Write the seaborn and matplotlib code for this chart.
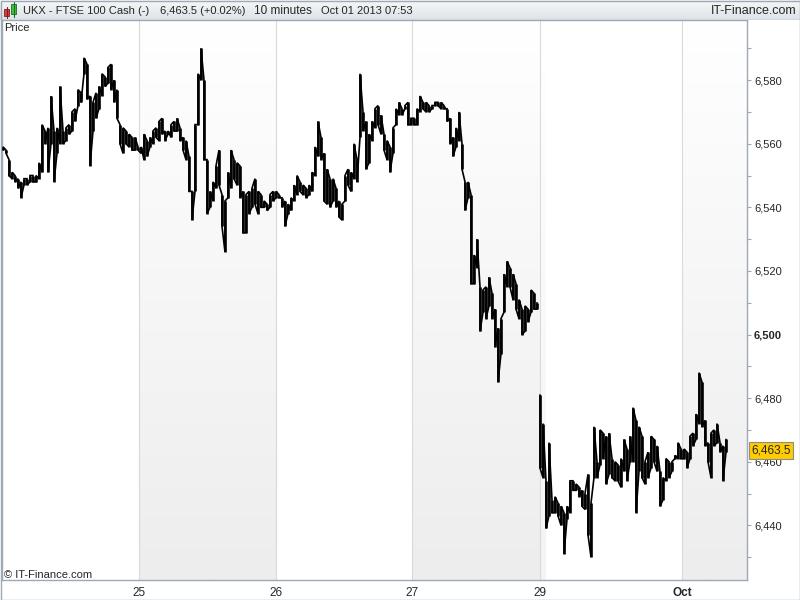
"""
FTSE 100 cash, 10-minute bars (24 Sep - 1 Oct 2013), IT-Finance style chart.
Bars are read off the reference picture, roughly three 10-minute bars per slot.
"""

import numpy as np
import pandas as pd
import matplotlib
matplotlib.use("Agg")
import matplotlib.pyplot as plt
import seaborn as sns
from matplotlib.colors import LinearSegmentedColormap
from matplotlib.patches import Rectangle
from matplotlib.ticker import MultipleLocator, FuncFormatter
import matplotlib.transforms as mtransforms

# ---- data -------------------------------------------------------------
bar_low = [
    6558, 6557, 6550, 6549, 6548, 6546, 6543, 6547, 6547, 6548,
    6548, 6548, 6549, 6551, 6560, 6551, 6560, 6548, 6557, 6560,
    6560, 6561, 6563, 6564, 6567, 6572, 6573, 6582, 6574, 6553,
    6564, 6568, 6571, 6575, 6578, 6579, 6577, 6573, 6568, 6560,
    6557, 6560, 6559, 6558, 6558, 6558, 6557, 6555, 6556, 6559,
    6560, 6562, 6561, 6563, 6561, 6563, 6562, 6564, 6564, 6561,
    6558, 6555, 6545, 6536, 6545, 6566, 6580, 6555, 6538, 6540,
    6542, 6546, 6547, 6534, 6526, 6543, 6546, 6549, 6547, 6543,
    6532, 6532, 6538, 6540, 6541, 6538, 6540, 6540, 6539, 6540,
    6542, 6543, 6543, 6540, 6534, 6538, 6539, 6542, 6544, 6545,
    6544, 6543, 6544, 6545, 6550, 6556, 6555, 6542, 6541, 6540,
    6542, 6540, 6537, 6536, 6542, 6547, 6545, 6549, 6548, 6562,
    6564, 6552, 6554, 6561, 6565, 6566, 6563, 6558, 6555, 6551,
    6557, 6566, 6569, 6569, 6571, 6566, 6566, 6566, 6566, 6570,
    6571, 6570, 6570, 6571, 6572, 6572, 6571, 6571, 6567, 6560,
    6556, 6559, 6561, 6552, 6539, 6543, 6516, 6516, 6521, 6501,
    6507, 6505, 6509, 6505, 6496, 6485, 6494, 6507, 6515, 6515,
    6511, 6508, 6505, 6500, 6501, 6504, 6507, 6508, 6508, 6458,
    6455, 6439, 6443, 6444, 6444, 6443, 6440, 6431, 6442, 6444,
    6451, 6451, 6449, 6446, 6445, 6437, 6430, 6455, 6455, 6459,
    6461, 6453, 6456, 6455, 6454, 6454, 6452, 6457, 6454, 6460,
    6460, 6444, 6457, 6455, 6453, 6455, 6458, 6460, 6457, 6446,
    6448, 6454, 6455, 6457, 6461, 6461, 6461, 6461, 6458, 6461,
    6465, 6467, 6472, 6471, 6465, 6460, 6455, 6465, 6466, 6463,
    6454, 6463,
]
bar_high = [
    6559, 6558, 6555, 6551, 6550, 6549, 6548, 6549, 6549, 6550,
    6550, 6550, 6554, 6566, 6564, 6565, 6575, 6564, 6565, 6578,
    6564, 6565, 6566, 6570, 6571, 6577, 6576, 6587, 6585, 6575,
    6573, 6576, 6578, 6582, 6581, 6584, 6585, 6580, 6577, 6566,
    6565, 6564, 6563, 6562, 6562, 6559, 6559, 6563, 6561, 6562,
    6564, 6565, 6567, 6568, 6564, 6564, 6566, 6567, 6568, 6565,
    6562, 6561, 6556, 6545, 6566, 6582, 6590, 6580, 6555, 6545,
    6548, 6553, 6558, 6544, 6542, 6551, 6558, 6555, 6554, 6553,
    6545, 6544, 6545, 6546, 6549, 6545, 6544, 6542, 6541, 6544,
    6545, 6545, 6544, 6543, 6542, 6541, 6543, 6547, 6550, 6548,
    6547, 6546, 6547, 6551, 6559, 6567, 6562, 6557, 6552, 6549,
    6549, 6546, 6542, 6541, 6550, 6552, 6551, 6560, 6555, 6582,
    6570, 6567, 6563, 6567, 6571, 6572, 6569, 6563, 6561, 6559,
    6565, 6571, 6573, 6571, 6572, 6573, 6568, 6568, 6571, 6575,
    6573, 6573, 6572, 6572, 6573, 6573, 6573, 6572, 6571, 6568,
    6562, 6565, 6570, 6560, 6548, 6548, 6544, 6525, 6530, 6515,
    6514, 6515, 6518, 6513, 6508, 6502, 6505, 6519, 6523, 6521,
    6519, 6516, 6511, 6508, 6509, 6508, 6514, 6513, 6510, 6481,
    6472, 6454, 6466, 6448, 6449, 6447, 6446, 6444, 6446, 6454,
    6454, 6453, 6452, 6451, 6450, 6456, 6447, 6471, 6460, 6470,
    6469, 6468, 6469, 6461, 6460, 6459, 6461, 6467, 6464, 6468,
    6477, 6473, 6471, 6468, 6460, 6463, 6468, 6467, 6465, 6457,
    6455, 6461, 6460, 6460, 6462, 6466, 6464, 6464, 6463, 6468,
    6469, 6475, 6488, 6485, 6473, 6466, 6469, 6470, 6472, 6466,
    6465, 6467,
]
last_price = 6463.5
reopen_slot = 179          # first slot after the weekend gap

day_labels = ["25", "26", "27", "29", "Oct"]
day_starts = [45.33, 91.0, 136.33, 179.0, 226.33]   # slot where each day begins
monday_start = 181.0
shaded_days = [(45.33, 91.0), (136.33, 179.0), (226.33, 248.0)]

XMIN, XMAX = -1 / 3, 248.0
YMIN, YMAX = 6422.8, 6598.9

# ---- style -------------------------------------------------------------
sns.set_theme(style="white")
plt.rcParams["font.family"] = ["Liberation Sans", "DejaVu Sans"]
GRID_GREY = "#9EA9B3"

fig = plt.figure(figsize=(8, 6), dpi=100)
fig.patch.set_facecolor("white")
ax = fig.add_axes([2 / 800, 20 / 600, 745 / 800, 560 / 600])

# day shading: vertical gradient, white at top to light grey at bottom
grad = np.linspace(0, 1, 256).reshape(-1, 1)
shade_cmap = LinearSegmentedColormap.from_list("shade", ["#FFFFFF", "#EDEDED"])
light_cmap = LinearSegmentedColormap.from_list("light", ["#FFFFFF", "#F4F4F4"])
for x0, x1 in shaded_days:
    ax.imshow(grad, extent=[x0, x1, YMIN, YMAX], origin="upper", aspect="auto",
              cmap=shade_cmap, zorder=0)
ax.imshow(grad, extent=[day_starts[3], monday_start, YMIN, YMAX], origin="upper",
          aspect="auto", cmap=light_cmap, zorder=0)
for xs in day_starts:
    ax.axvline(xs, color="#DADADA", lw=0.8, zorder=1)

# high-low bars: walk each slot low<->high so consecutive bars join up,
# with a break at the weekend gap
path_x, path_y, path_seg = [], [], []
end = bar_low[0]
for i, (lo, hi) in enumerate(zip(bar_low, bar_high)):
    if i == reopen_slot:
        end = hi
    first, second = (lo, hi) if abs(end - lo) <= abs(end - hi) else (hi, lo)
    seg = 0 if i < reopen_slot else 1
    path_x += [i, i]
    path_y += [first, second]
    path_seg += [seg, seg]
    end = second

df = pd.DataFrame({"slot": path_x, "price": path_y, "session": path_seg})
sns.lineplot(data=df, x="slot", y="price", units="session", estimator=None,
             sort=False, color="black", linewidth=1.2, ax=ax, legend=False,
             solid_joinstyle="miter", zorder=3)
# heavier vertical strokes for the bar ranges
ax.vlines(np.arange(len(bar_low)), bar_low, bar_high, color="black",
          linewidth=1.9, zorder=3)

ax.set_xlim(XMIN, XMAX)
ax.set_ylim(YMIN, YMAX)
ax.set_xlabel("")
ax.set_ylabel("")

# axes frame
for sp in ax.spines.values():
    sp.set_visible(True)
    sp.set_color(GRID_GREY)
    sp.set_linewidth(1.0)

# right price axis
ax.yaxis.tick_right()
ax.yaxis.set_major_locator(MultipleLocator(20))
ax.yaxis.set_minor_locator(MultipleLocator(10))
ax.yaxis.set_major_formatter(FuncFormatter(lambda v, p: f"{v:,.0f}"))
ax.tick_params(axis="y", which="both", direction="out", length=3, width=0.8,
               color=GRID_GREY, labelsize=8, pad=2, left=False, right=True)
for lbl in ax.get_yticklabels():
    if lbl.get_text() == "6,500":
        lbl.set_fontweight("bold")

# bottom date axis
ax.set_xticks(day_starts)
ax.set_xticklabels(day_labels)
ax.tick_params(axis="x", direction="out", length=3, width=0.8, color=GRID_GREY,
               labelsize=8.5, pad=2)
for lbl in ax.get_xticklabels():
    if lbl.get_text() == "Oct":
        lbl.set_fontweight("bold")

# last price tag
tr = mtransforms.blended_transform_factory(ax.transAxes, ax.transData)
ax.text(1.0 + 4 / 745, last_price, f"{last_price:,.1f}", transform=tr,
        fontsize=8.5, va="center", ha="left", clip_on=False, zorder=6,
        bbox=dict(boxstyle="square,pad=0.2", facecolor="#FFCC00",
                  edgecolor="#8C8C8C", linewidth=0.8))

# ---- header bar --------------------------------------------------------
hdr = fig.add_axes([0, 580 / 600, 1, 20 / 600])
hdr_cmap = LinearSegmentedColormap.from_list("hdr", ["#F6F8FA", "#DCE3E8"])
hdr.imshow(np.linspace(0, 1, 64).reshape(-1, 1), extent=[0, 800, 20, 0],
           aspect="auto", cmap=hdr_cmap, origin="upper")
hdr.set_xlim(0, 800)
hdr.set_ylim(20, 0)
hdr.axis("off")
hdr.axhline(19.5, color=GRID_GREY, lw=1.0)

# candlestick icon
hdr.plot([6.5, 6.5], [7, 18], color="#7A1E1E", lw=0.8)
hdr.add_patch(Rectangle((4, 9), 5, 7, facecolor="#E03A3A", edgecolor="#7A1E1E", lw=0.6))
hdr.plot([13.5, 13.5], [2, 17], color="#1E6A1E", lw=0.8)
hdr.add_patch(Rectangle((11, 4), 5, 10, facecolor="#3CC83C", edgecolor="#1E6A1E", lw=0.6))

hdr.text(23, 10.5, "UKX - FTSE 100 Cash (-)", fontsize=8, va="center")
hdr.text(160, 10.5, "6,463.5 (+0.02%)", fontsize=8, va="center")
hdr.text(254, 10.5, "10 minutes", fontsize=8.5, va="center")
hdr.text(321, 10.5, "Oct 01 2013 07:53", fontsize=8, va="center")
hdr.text(796, 10.5, "IT-Finance.com", fontsize=9, va="center", ha="right")

# small captions inside the plot frame
fig.text(4 / 800, 1 - 28 / 600, "Price", fontsize=8, va="center")
fig.text(4 / 800, 1 - 575 / 600, "\u00a9 IT-Finance.com", fontsize=8, va="center")

# outer border
fig.add_artist(Rectangle((0.5 / 800, 0.5 / 600), 799 / 800, 599 / 600,
                         transform=fig.transFigure, fill=False,
                         edgecolor=GRID_GREY, lw=1.0))

fig.savefig("out.png", dpi=100)
plt.close(fig)
